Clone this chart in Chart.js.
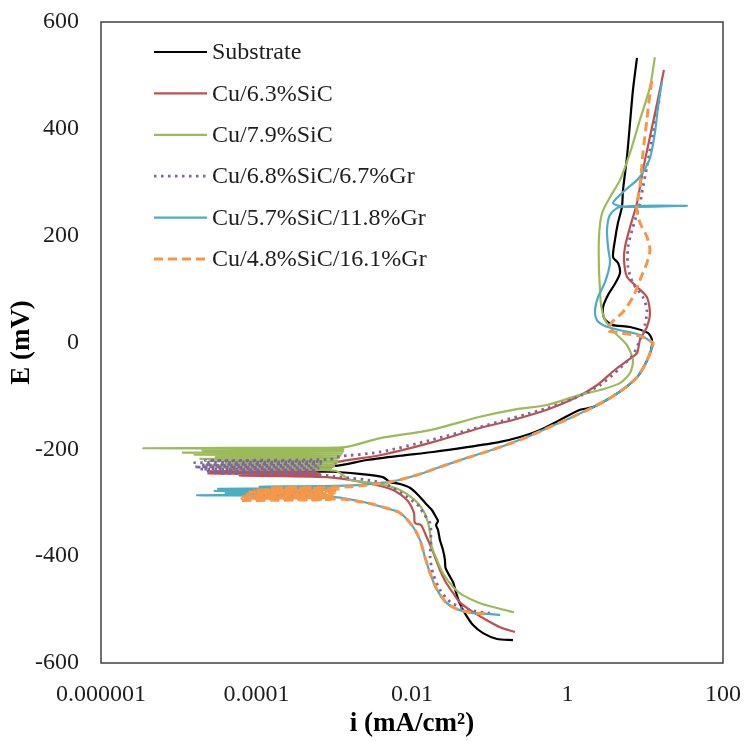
<!DOCTYPE html>
<html>
<head>
<meta charset="utf-8">
<script src="https://cdn.jsdelivr.net/npm/chart.js@4.4.1/dist/chart.umd.min.js"></script>
<style>
  html, body { margin: 0; padding: 0; background: #fff; }
</style>
</head>
<body>
<canvas id="myChart" width="745" height="742"></canvas>
<script>
// current density (mA/cm2) and potential (mV), cathodic end -> Ecorr noise -> anodic end
const subI = [0.199, 0.124, 0.082, 0.061, 0.048, 0.041, 0.037, 0.034, 0.031, 0.027, 0.0265, 0.025, 0.0229, 0.0216, 0.0204, 0.0216, 0.0204, 0.0181, 0.0147, 0.0119, 0.0094, 0.0070, 0.0052, 0.0042, 0.0021, 0.00096,
    0.000082, 0.00088, 0.000111, 0.00102,
    0.00264, 0.0070, 0.0186, 0.051, 0.136, 0.245, 0.443, 0.80, 1.45, 2.13, 3.52, 5.49, 8.07, 10.2, 11.9, 12.2, 10.8, 6.37, 3.74, 2.95, 2.86, 3.32, 4.08, 4.73, 4.46, 3.85, 4.08, 4.46, 5.02, 5.17, 5.82, 6.37, 6.95, 7.83];
const subE = [-557, -555, -544, -529, -507, -488, -469, -450, -439, -422, -407, -388, -370, -351, -342, -334, -327, -314, -300, -285, -272, -265, -261, -252, -246, -242,
    -241, -237, -235, -231,
    -220, -212, -205, -196, -186, -177, -164, -145, -126, -121, -104, -85, -63, -38, -14, 5, 18, 29, 33, 46, 66, 89, 110, 130, 149, 160, 192, 224, 254, 285, 347, 411, 473, 533];

const sic63I = [0.211, 0.136, 0.087, 0.056, 0.041, 0.033, 0.027, 0.0229, 0.0198, 0.0171, 0.0147, 0.0131, 0.0109, 0.0106, 0.0086, 0.0057, 0.0026, 0.00081,
    0.000061, 0.00066, 0.000024, 0.0006, 0.000026, 0.00066, 0.000046, 0.00088,
    0.00108, 0.0039, 0.0171, 0.075, 0.199, 0.545, 1.25, 2.39, 4.08, 6.0, 7.83, 8.55, 10.5, 11.5, 10.5, 7.83, 5.82, 5.33, 5.49, 6.37, 7.83, 9.35, 11.5, 14.2, 17.4];
const sic63E = [-542, -533, -518, -501, -486, -467, -448, -426, -402, -379, -357, -342, -338, -319, -295, -276, -263, -252,
    -249, -247, -245, -243, -241, -239, -237, -235,
    -224, -211, -188, -160, -145, -126, -104, -80, -51, -33, -20, 5, 29, 55, 85, 104, 123, 154, 179, 216, 261, 323, 385, 448, 510];

const sic79I = [0.205, 0.124, 0.075, 0.045, 0.034, 0.025, 0.021, 0.018, 0.0171, 0.0161, 0.0143, 0.0109, 0.0070, 0.0039, 0.0016,
    0.00102, 0.00005, 0.0009, 0.00003, 0.001, 0.000022, 0.001, 0.00004, 0.0011, 0.000025, 0.0011, 0.000019, 0.00115, 0.00003, 0.0012, 0.000016, 0.00125, 0.0000113, 0.0013, 0.00002, 0.0013, 0.0000035, 0.0005, 0.00137,
    0.0039, 0.0171, 0.075, 0.199, 0.545, 1.45, 2.62, 4.73, 6.37, 6.95, 5.82, 4.08, 3.04, 2.70, 2.62, 2.54, 2.54, 2.78, 3.52, 4.73, 6.37, 8.55, 11.5, 13.3];
const sic79E = [-505, -497, -488, -473, -458, -432, -407, -383, -357, -338, -317, -295, -276, -265, -257,
    -240, -238, -236, -234, -232, -230, -228, -226, -224, -222, -220, -218, -216, -214, -212, -210, -208, -206, -204, -202, -200, -198, -197, -196,
    -179, -164, -139, -126, -117, -98, -89, -76, -57, -33, -5, 18, 42, 70, 98, 136, 198, 242, 272, 304, 355, 417, 478, 534];

const gr67I = [0.101, 0.065, 0.045, 0.031, 0.0229, 0.0186, 0.0171, 0.0175, 0.0171, 0.0138, 0.0127, 0.0086, 0.0042, 0.00096,
    0.00049, 0.00003, 0.00056, 0.000022, 0.0006, 0.000019, 0.00062, 0.000016, 0.00064, 0.00002, 0.00066, 0.000016, 0.0007, 0.000022, 0.00088,
    0.00108, 0.0039, 0.0171, 0.075, 0.545, 1.25, 2.62, 4.73, 6.95, 8.55, 9.93, 10.5, 9.35, 6.95, 6.0, 6.0, 6.95, 8.55, 9.35, 10.5, 12.6, 14.6, 15.5];
const gr67E = [-507, -503, -497, -486, -463, -432, -402, -370, -338, -319, -308, -289, -263, -250,
    -247, -245, -243, -241, -239, -237, -235, -233, -231, -229, -227, -225, -223, -221, -219,
    -214, -205, -183, -158, -123, -104, -80, -48, -23, 5, 33, 61, 85, 111, 141, 179, 216, 261, 291, 329, 392, 441, 463];

const gr118I = [0.136, 0.092, 0.065, 0.041, 0.028, 0.021, 0.0171, 0.0147, 0.0127, 0.0103, 0.0070, 0.0042, 0.0026, 0.00096,
    0.0000172, 0.00066, 0.00004, 0.0007, 0.000029, 0.0008, 0.000032, 0.00088, 0.00011, 0.00137,
    0.0052, 0.0116, 0.0229, 0.051, 0.136, 0.301, 0.596, 1.18, 2.13, 3.52, 5.49, 8.07, 10.2, 11.9, 12.2, 8.55, 4.73, 3.04, 2.39, 2.26, 2.47, 3.04, 3.52, 3.32, 3.22, 3.52, 4.73, 34.4, 5.49, 3.85, 5.49, 7.83, 9.35, 11.5, 13.3, 14.6, 16.4];
const gr118E = [-510, -508, -507, -501, -488, -463, -432, -402, -370, -345, -319, -308, -300, -289,
    -286, -284, -282, -280, -278, -276, -274, -272, -270, -268,
    -261, -248, -233, -216, -196, -177, -158, -139, -121, -104, -85, -63, -38, -14, -1, 14, 23, 31, 42, 61, 85, 113, 149, 179, 211, 239, 254, 256, 254, 261, 285, 304, 319, 345, 392, 441, 488];

const gr161I = [0.087, 0.069, 0.041, 0.028, 0.021, 0.0171, 0.0147, 0.0127, 0.0103, 0.0070, 0.0042, 0.0026, 0.00119,
    0.000061, 0.00088, 0.000065, 0.00095, 0.000067, 0.001, 0.000075, 0.001, 0.000082, 0.0011, 0.000096, 0.00119, 0.00015, 0.0016,
    0.0052, 0.0116, 0.0229, 0.051, 0.136, 0.301, 0.596, 1.18, 2.13, 3.52, 5.49, 8.07, 10.2, 11.9, 12.6, 8.55, 4.73, 3.32, 3.74, 5.17, 6.95, 8.55, 10.5, 11.5, 10.5, 8.55, 7.83, 8.07, 8.55, 9.35, 10.5, 11.5, 12.2];
const gr161E = [-508, -507, -501, -488, -463, -432, -402, -370, -345, -319, -308, -300, -293,
    -296, -294, -292, -290, -288, -286, -284, -282, -280, -278, -276, -274, -272, -270,
    -261, -248, -233, -216, -196, -177, -158, -139, -121, -104, -85, -63, -38, -14, -1, 12, 18, 22, 38, 57, 85, 117, 149, 173, 198, 224, 248, 272, 291, 355, 417, 467, 491];

const X_TICKS = [0.000001, 0.0001, 0.01, 1, 100];
const X_LABELS = ['0.000001', '0.0001', '0.01', '1', '100'];
const Y_TICKS = [-600, -400, -200, 0, 200, 400, 600];

const SERIF = "'Liberation Serif', 'Times New Roman', serif";
const FRAME = '#404040';
const TEXT = '#1e1e1e';

const toPoints = (iArr, eArr) => iArr.map((v, k) => ({ x: v, y: eArr[k] }));

const series = [
    { label: 'Substrate', i: subI, e: subE, color: '#000000', dash: [], width: 2.2 },
    { label: 'Cu/6.3%SiC', i: sic63I, e: sic63E, color: '#c0504d', dash: [], width: 2.2 },
    { label: 'Cu/7.9%SiC', i: sic79I, e: sic79E, color: '#9bbb59', dash: [], width: 2.2 },
    { label: 'Cu/6.8%SiC/6.7%Gr', i: gr67I, e: gr67E, color: '#8064a2', dash: [2.5, 4.5], width: 2.8 },
    { label: 'Cu/5.7%SiC/11.8%Gr', i: gr118I, e: gr118E, color: '#4bacc6', dash: [], width: 2.2 },
    { label: 'Cu/4.8%SiC/16.1%Gr', i: gr161I, e: gr161E, color: '#f79646', dash: [9, 5], width: 3 },
];

const frameAndLegend = {
    id: 'frameAndLegend',
    afterDatasetsDraw(chart) {
        const { ctx, chartArea: a } = chart;
        ctx.save();
        ctx.strokeStyle = FRAME;
        ctx.lineWidth = 1.5;
        ctx.strokeRect(a.left, a.top, a.right - a.left, a.bottom - a.top);

        ctx.font = `24px ${SERIF}`;
        ctx.textBaseline = 'middle';
        ctx.fillStyle = TEXT;
        series.forEach((s, k) => {
            const y = 52 + k * 41.4;
            ctx.beginPath();
            ctx.strokeStyle = s.color;
            ctx.lineWidth = s.width;
            ctx.setLineDash(s.dash);
            ctx.moveTo(154, y);
            ctx.lineTo(207, y);
            ctx.stroke();
            ctx.setLineDash([]);
            ctx.fillText(s.label, 212, y + 1);
        });
        ctx.restore();
    }
};

new Chart(document.getElementById('myChart'), {
    type: 'scatter',
    data: {
        datasets: series.map((s, k) => ({
            label: s.label,
            data: toPoints(s.i, s.e),
            showLine: true,
            borderColor: s.color,
            backgroundColor: s.color,
            borderWidth: s.width,
            borderDash: s.dash,
            pointRadius: 0,
            tension: 0.25,
            order: series.length - k,
        }))
    },
    options: {
        responsive: false,
        animation: false,
        layout: { padding: { left: 0, right: 22, top: 22, bottom: 0 } },
        plugins: {
            legend: { display: false },
            tooltip: { enabled: false },
        },
        scales: {
            x: {
                type: 'logarithmic',
                min: 0.000001,
                max: 100,
                afterBuildTicks: (s) => { s.ticks = X_TICKS.map(v => ({ value: v })); },
                afterFit: (s) => {
                    s.height = 79;
                    s.paddingLeft = 0;
                    s.paddingRight = 0;
                },
                grid: { display: false, drawTicks: false },
                border: { display: false },
                ticks: {
                    padding: 17,
                    autoSkip: false,
                    maxRotation: 0,
                    color: TEXT,
                    font: { family: SERIF, size: 24 },
                    callback: (v, idx) => X_LABELS[idx],
                },
                title: {
                    display: true,
                    text: 'i (mA/cm²)',
                    color: '#000',
                    font: { family: SERIF, size: 27, weight: 'bold', lineHeight: 1 },
                    padding: { top: 0, bottom: 4 },
                }
            },
            y: {
                min: -600,
                max: 600,
                afterBuildTicks: (s) => { s.ticks = Y_TICKS.map(v => ({ value: v })); },
                afterFit: (s) => {
                    s.width = 101;
                    s.paddingTop = 0;
                    s.paddingBottom = 0;
                },
                grid: { display: false, drawTicks: false },
                border: { display: false },
                ticks: {
                    padding: 22,
                    color: TEXT,
                    font: { family: SERIF, size: 24 },
                },
                title: {
                    display: true,
                    text: 'E (mV)',
                    color: '#000',
                    font: { family: SERIF, size: 27, weight: 'bold', lineHeight: 1 },
                    padding: { top: 9, bottom: 0 },
                }
            }
        }
    },
    plugins: [frameAndLegend]
});
</script>
</body>
</html>
